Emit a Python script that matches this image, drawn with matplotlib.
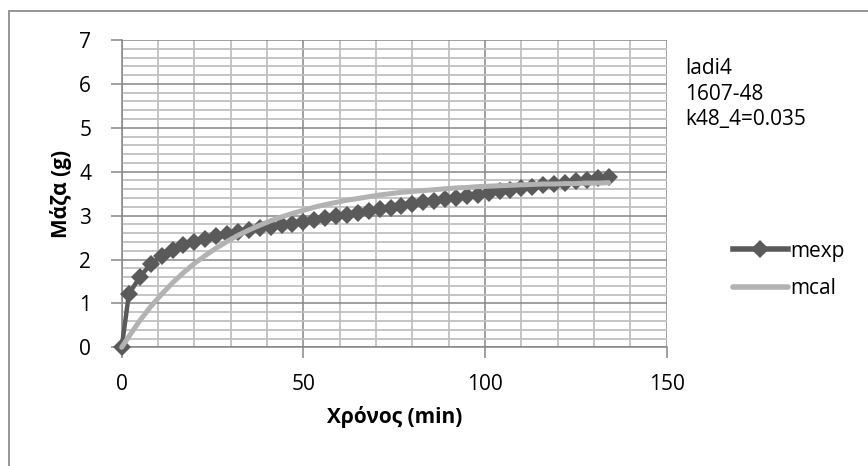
import matplotlib
matplotlib.use("Agg")
import matplotlib.pyplot as plt
from matplotlib.ticker import MultipleLocator
from matplotlib.lines import Line2D
from matplotlib.patches import Rectangle

plt.rcParams['font.family'] = ['Open Sans', 'DejaVu Sans']

# Time (min)
time_min = [0, 2, 5, 8, 11, 14, 17, 20, 23, 26, 29, 32, 35, 38, 41, 44, 47,
            50, 53, 56, 59, 62, 65, 68, 71, 74, 77, 80, 83, 86, 89, 92, 95,
            98, 101, 104, 107, 110, 113, 116, 119, 122, 125, 128, 131, 134]

# Measured mass (g)
mexp = [0.00, 1.22, 1.60, 1.90, 2.08, 2.22, 2.32, 2.40, 2.47, 2.53, 2.58,
        2.63, 2.67, 2.71, 2.74, 2.78, 2.82, 2.86, 2.90, 2.94, 2.98, 3.02,
        3.06, 3.10, 3.14, 3.18, 3.22, 3.26, 3.30, 3.33, 3.37, 3.40, 3.44,
        3.48, 3.52, 3.55, 3.59, 3.62, 3.65, 3.69, 3.72, 3.75, 3.79, 3.82,
        3.85, 3.88]

# Calculated mass (g)
mcal = [0.00, 0.25, 0.61, 0.93, 1.21, 1.47, 1.70, 1.91, 2.09, 2.26, 2.41,
        2.55, 2.67, 2.78, 2.88, 2.97, 3.05, 3.12, 3.19, 3.25, 3.30, 3.35,
        3.39, 3.43, 3.47, 3.50, 3.53, 3.55, 3.57, 3.59, 3.61, 3.63, 3.64,
        3.66, 3.67, 3.68, 3.69, 3.70, 3.71, 3.72, 3.72, 3.73, 3.73, 3.74,
        3.74, 3.75]

info_lines = ["ladi4", "1607-48", "k48_4=0.035"]
x_label = "Χρόνος (min)"
y_label = "Μάζα (g)"

DARK = "#5a5a5a"
LIGHT = "#b2b2b2"
MAJOR_GRID = "#868686"
MINOR_GRID = "#c0c0c0"
FS = 15

fig = plt.figure(figsize=(8.68, 4.66), dpi=100)
fig.patch.set_facecolor("white")

# chart frame
fig.patches.append(Rectangle((8.5 / 868, -0.1), 1.2, 1 - 10.5 / 466 + 0.1,
                             transform=fig.transFigure, fill=False,
                             edgecolor="#8c8c8c", linewidth=1.3, zorder=0))

ax = fig.add_axes([121.7 / 868, 1 - 347.3 / 466, 545 / 868, 307.3 / 466])
ax.set_xlim(0, 150)
ax.set_ylim(0, 7)

ax.xaxis.set_major_locator(MultipleLocator(50))
ax.xaxis.set_minor_locator(MultipleLocator(10))
ax.yaxis.set_major_locator(MultipleLocator(1))
ax.yaxis.set_minor_locator(MultipleLocator(0.2))

ax.grid(which="minor", color=MINOR_GRID, linewidth=1.3, zorder=0)
ax.grid(which="major", color=MAJOR_GRID, linewidth=1.1, zorder=0.5)
ax.set_axisbelow(True)

for side in ("top", "right"):
    ax.spines[side].set_visible(False)
for side in ("left", "bottom"):
    ax.spines[side].set_color(MAJOR_GRID)
    ax.spines[side].set_linewidth(1.1)

ax.tick_params(axis="both", which="major", direction="out", length=8,
               width=1.1, color=MAJOR_GRID, labelsize=FS)
ax.tick_params(axis="x", pad=11)
ax.tick_params(axis="y", pad=14)
ax.tick_params(axis="both", which="minor", length=0)

ax.plot(time_min, mexp, color=DARK, linewidth=3.2, marker="D",
        markersize=9.5, markeredgewidth=0, zorder=3, clip_on=False)
ax.plot(time_min, mcal, color=LIGHT, linewidth=3.6, solid_capstyle="round",
        zorder=4, clip_on=False)

ax.set_xlabel(x_label, fontsize=FS, fontweight="bold", labelpad=8)
ax.set_ylabel(y_label, fontsize=FS, fontweight="bold", labelpad=5)

for i, line in enumerate(info_lines):
    fig.text(685 / 868, 1 - (69 + 25 * i) / 466, line, fontsize=FS,
             va="center", ha="left")

handles = [Line2D([], [], color=DARK, linewidth=4, marker="D",
                  markersize=9, markeredgewidth=0),
           Line2D([], [], color=LIGHT, linewidth=4, solid_capstyle="round")]
fig.legend(handles, ["mexp", "mcal"], loc="center left",
           bbox_to_anchor=(725 / 868, 1 - 270 / 466), frameon=False,
           fontsize=FS, handlelength=2.6, handletextpad=0.15, numpoints=1,
           labelspacing=0.8, borderaxespad=0)

fig.savefig("out.png", dpi=100)
